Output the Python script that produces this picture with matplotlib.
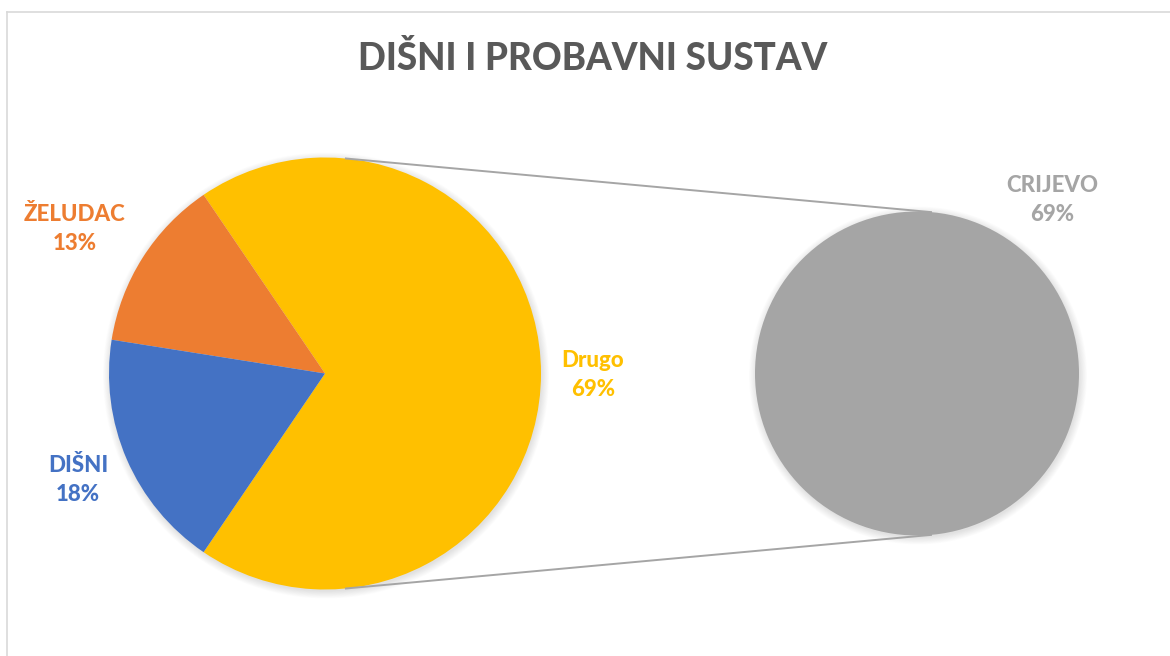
import matplotlib
matplotlib.use("Agg")
import matplotlib.pyplot as plt
import numpy as np
from matplotlib.patches import Circle

# Data
title = "DIŠNI I PROBAVNI SUSTAV"
main_labels = ["Drugo", "ŽELUDAC", "DIŠNI"]
main_values = [69, 13, 18]
main_colors = ["#FFC000", "#ED7D31", "#4472C4"]
sub_labels = ["CRIJEVO"]
sub_values = [69]
sub_colors = ["#A5A5A5"]

W, H = 1170, 656
fig = plt.figure(figsize=(W / 100, H / 100), dpi=100)
ax = fig.add_axes([0, 0, 1, 1])

FONT = ["Lato", "DejaVu Sans"]

main_c = (325, 373.5)
main_r = 216
sub_c = (917, 373.5)
sub_r = 162

def shadow(c, r):
    for k in range(10):
        ax.add_patch(Circle((c[0] + 1, c[1] + 2), r + 7 - k * 0.8,
                            color="black", alpha=0.012, lw=0, zorder=1))

total = sum(main_values)
start = main_values[0] / total * 180
ax.pie(main_values, colors=main_colors, startangle=start,
       counterclock=False, center=main_c, radius=main_r,
       wedgeprops=dict(linewidth=0, zorder=2), frame=True)
ax.pie(sub_values, colors=sub_colors, startangle=90, center=sub_c,
       radius=sub_r, wedgeprops=dict(linewidth=0, zorder=2), frame=True)
shadow(main_c, main_r)
shadow(sub_c, sub_r)
ax.set_xlim(0, W)
ax.set_ylim(H, 0)
ax.set_aspect("equal")
ax.axis("off")

# chart-area border (partially visible)
ax.plot([7, 7], [H, 12], color="#D9D9D9", lw=1.2)
ax.plot([7, W], [12, 12], color="#D9D9D9", lw=1.2)

# connector lines
ang = np.deg2rad(84.7)
for s in (1, -1):
    x0 = main_c[0] + main_r * np.cos(ang)
    y0 = main_c[1] - s * main_r * np.sin(ang)
    x1 = sub_c[0] + sub_r * np.cos(ang)
    y1 = sub_c[1] - s * sub_r * np.sin(ang)
    ax.plot([x0, x1], [y0, y1], color="#A5A5A5", lw=1.4, zorder=3,
            solid_capstyle="butt")

# labels
label_pos = {"Drugo": (593, 375), "ŽELUDAC": (75, 229), "DIŠNI": (78, 480)}
for lab, val, col in zip(main_labels, main_values, main_colors):
    x, y = label_pos[lab]
    ax.text(x, y, f"{lab}\n{round(val / total * 100)}%", color=col,
            fontsize=16, fontweight="black", family=FONT, ha="center",
            va="center", linespacing=1.5, zorder=5)
for lab, val, col in zip(sub_labels, sub_values, sub_colors):
    ax.text(1052, 200, f"{lab}\n{round(val / total * 100)}%", color=col,
            fontsize=16, fontweight="black", family=FONT, ha="center",
            va="center", linespacing=1.5, zorder=5)

ax.text(593, 59, title, color="#595959", fontsize=26.5, fontweight="black",
        family=FONT, ha="center", va="center")

fig.savefig("out.png", dpi=100)
